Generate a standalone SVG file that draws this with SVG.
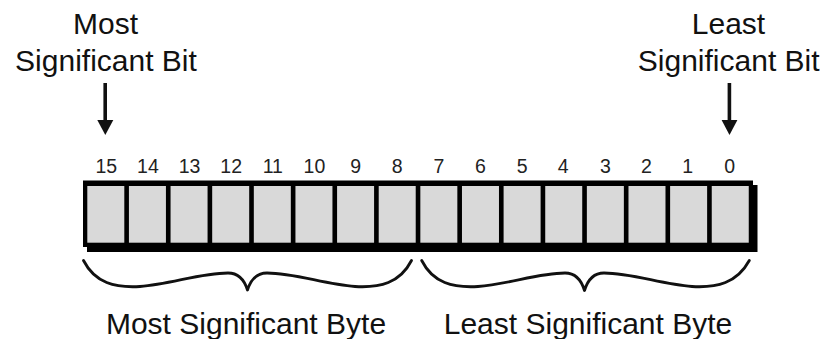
<svg xmlns="http://www.w3.org/2000/svg" width="825" height="339" viewBox="0 0 825 339">
  <style>
    .lbl { font-family: "Liberation Sans", Arial, sans-serif; font-size: 30px; fill: #111; text-anchor: middle; }
    .num { font-family: "Liberation Sans", Arial, sans-serif; font-size: 19.5px; fill: #222; text-anchor: middle; }
    .cell { fill: #d9d9d9; }
    .brace { fill: none; stroke: #111; stroke-width: 2.8; stroke-linejoin: round; stroke-linecap: round; }
    .shaft { stroke: #111; stroke-width: 3.6; }
    .head { fill: #111; }
  </style>
  <rect width="825" height="339" fill="#fff"/>

  <!-- register frame with drop shadow -->
  <g id="register">
    <rect x="87" y="185" width="670.5" height="67" fill="#000"/>
    <rect x="83" y="180.5" width="670" height="66.5" fill="#000"/>
  </g>

  <!-- one cell per bit, MSB on the left -->
  <g id="bit15"><rect class="cell" x="87.3" y="186" width="37" height="56.7"/><text class="num" x="106.3" y="173">15</text></g>
  <g id="bit14"><rect class="cell" x="128.93" y="186" width="37" height="56.7"/><text class="num" x="147.93" y="173">14</text></g>
  <g id="bit13"><rect class="cell" x="170.56" y="186" width="37" height="56.7"/><text class="num" x="189.56" y="173">13</text></g>
  <g id="bit12"><rect class="cell" x="212.19" y="186" width="37" height="56.7"/><text class="num" x="231.19" y="173">12</text></g>
  <g id="bit11"><rect class="cell" x="253.82" y="186" width="37" height="56.7"/><text class="num" x="272.82" y="173">11</text></g>
  <g id="bit10"><rect class="cell" x="295.45" y="186" width="37" height="56.7"/><text class="num" x="314.45" y="173">10</text></g>
  <g id="bit9"><rect class="cell" x="337.08" y="186" width="37" height="56.7"/><text class="num" x="355.58" y="173">9</text></g>
  <g id="bit8"><rect class="cell" x="378.71" y="186" width="37" height="56.7"/><text class="num" x="397.21" y="173">8</text></g>
  <g id="bit7"><rect class="cell" x="420.34" y="186" width="37" height="56.7"/><text class="num" x="438.84" y="173">7</text></g>
  <g id="bit6"><rect class="cell" x="461.97" y="186" width="37" height="56.7"/><text class="num" x="480.47" y="173">6</text></g>
  <g id="bit5"><rect class="cell" x="503.6" y="186" width="37" height="56.7"/><text class="num" x="522.1" y="173">5</text></g>
  <g id="bit4"><rect class="cell" x="545.23" y="186" width="37" height="56.7"/><text class="num" x="563.23" y="173">4</text></g>
  <g id="bit3"><rect class="cell" x="586.86" y="186" width="37" height="56.7"/><text class="num" x="605.36" y="173">3</text></g>
  <g id="bit2"><rect class="cell" x="628.49" y="186" width="37" height="56.7"/><text class="num" x="646.49" y="173">2</text></g>
  <g id="bit1"><rect class="cell" x="670.12" y="186" width="37" height="56.7"/><text class="num" x="687.62" y="173">1</text></g>
  <g id="bit0"><rect class="cell" x="711.75" y="186" width="37" height="56.7"/><text class="num" x="729.75" y="173">0</text></g>

  <!-- captions -->
  <g id="msb-label">
    <text class="lbl" x="105.5" y="34">Most</text>
    <text class="lbl" x="106" y="70.5">Significant Bit</text>
  </g>
  <g id="lsb-label">
    <text class="lbl" x="728.5" y="34">Least</text>
    <text class="lbl" x="728.7" y="70.5">Significant Bit</text>
  </g>
  <g id="msbyte-label">
    <text class="lbl" x="246" y="334">Most Significant Byte</text>
  </g>
  <g id="lsbyte-label">
    <text class="lbl" x="588" y="333.5">Least Significant Byte</text>
  </g>

  <!-- pointers and byte braces -->
  <g id="connectors">
    <line class="shaft" x1="105.2" y1="83" x2="105.2" y2="122"/>
    <polygon class="head" points="97.3,120 113.3,120 105.3,135"/>
    <line class="shaft" x1="729.4" y1="83" x2="729.4" y2="122"/>
    <polygon class="head" points="721.6,120 737.4,120 729.5,135"/>

    <path class="brace" d="M83.5,260.5 C95,283 115,288 140,286.5 C170,284.5 200,273 228,273 C238,273 244,279 247.5,290 C251,279 257,273 267,273 C295,273 325,284.5 355,286.5 C380,288 400,283 411.5,260.5"/>
    <path class="brace" d="M421.7,260.5 C433,283 453,288 478,286.5 C508,284.5 538,273 565,273 C575,273 581,279 584.5,290.5 C588,279 594,273 604,273 C632,273 662,284.5 692,286.5 C717,288 737,283 749.3,260.5"/>
  </g>
</svg>
